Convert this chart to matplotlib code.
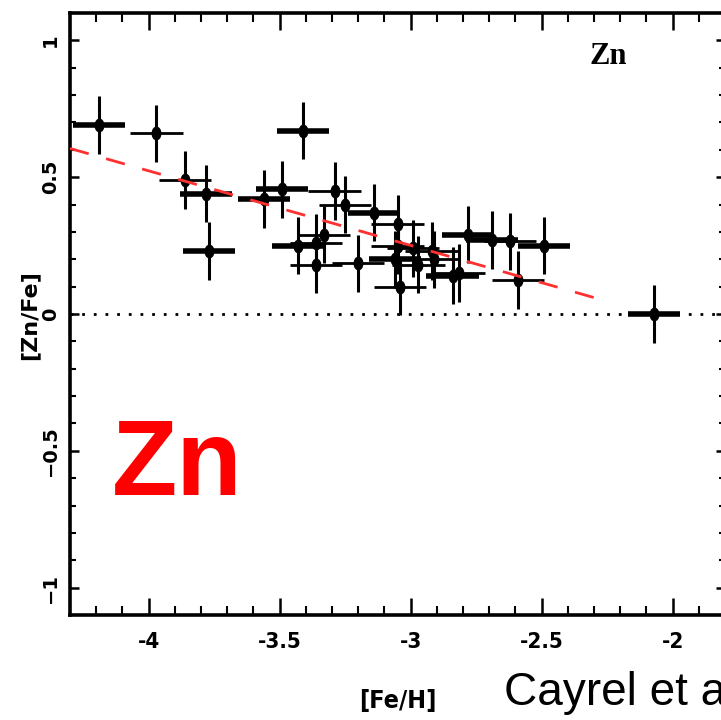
import matplotlib
matplotlib.use("Agg")
import matplotlib.pyplot as plt
from matplotlib.markers import MarkerStyle
from matplotlib.transforms import Affine2D
from matplotlib.ticker import FixedLocator, MultipleLocator, FixedFormatter

# ---------------- data ----------------
fe_h = [-4.19, -3.97, -3.86, -3.78, -3.77, -3.56, -3.49, -3.41, -3.43, -3.36,
        -3.36, -3.33, -3.29, -3.25, -3.20, -3.14, -3.05, -3.05, -3.06, -3.04,
        -2.99, -2.97, -2.92, -2.91, -2.84, -2.815, -2.78, -2.69, -2.62, -2.59,
        -2.49, -2.07]
zn_fe = [0.69, 0.66, 0.49, 0.44, 0.23, 0.42, 0.455, 0.67, 0.25, 0.26,
         0.18, 0.29, 0.45, 0.40, 0.185, 0.37, 0.33, 0.25, 0.20, 0.10,
         0.24, 0.18, 0.23, 0.20, 0.14, 0.15, 0.29, 0.27, 0.265, 0.125,
         0.25, 0.0]
fe_err = 0.10
zn_err = 0.105

fit_fe = [-4.30, -2.30]
fit_zn = [0.605, 0.06]

xtick_vals = [-4, -3.5, -3, -2.5, -2]
xtick_labels = ['-4', '-3.5', '-3', '-2.5', '-2']
ytick_vals = [-1, -0.5, 0, 0.5, 1]
ytick_labels = ['\u22121', '\u22120.5', '0', '0.5', '1']

# ---------------- style ----------------
bold_bars = {0, 3, 4, 5, 6, 7, 8, 15, 18, 24, 26, 27, 30, 31}

W, H = 721, 720
fig = plt.figure(figsize=(W / 100, H / 100), dpi=100)
L, R, T, B = 70, 725, 13, 615
ax = fig.add_axes([L / W, 1 - B / H, (R - L) / W, (B - T) / H])
ax.set_xlim(-4.3, -1.8)
ax.set_ylim(-1.1, 1.1)

# zero line
ax.axhline(0, color='black', lw=2.0, linestyle=(0, (1, 3.2)), zorder=1)

# fit line
ax.plot(fit_fe, fit_zn, color='#ff3030', lw=2.0, linestyle=(0, (7, 6.5)),
        zorder=4, dash_capstyle='butt')

thick_idx = [i for i in range(len(fe_h)) if i in bold_bars]
thin_idx = [i for i in range(len(fe_h)) if i not in bold_bars]
for idx, lw in ((thick_idx, 4.0), (thin_idx, 2.0)):
    ax.errorbar([fe_h[i] for i in idx], [zn_fe[i] for i in idx],
                xerr=fe_err, fmt='none', ecolor='black', elinewidth=lw,
                capsize=0, zorder=2)
ax.errorbar(fe_h, zn_fe, yerr=zn_err, fmt='none', ecolor='black',
            elinewidth=2.2, capsize=0, zorder=2)
mk = MarkerStyle('o', transform=Affine2D().scale(0.68, 1.0))
ax.plot(fe_h, zn_fe, linestyle='none', marker=mk, ms=9, color='black',
        zorder=3)

# ticks
ax.xaxis.set_major_locator(FixedLocator(xtick_vals))
ax.xaxis.set_major_formatter(FixedFormatter(xtick_labels))
ax.xaxis.set_minor_locator(MultipleLocator(0.1))
ax.yaxis.set_major_locator(FixedLocator(ytick_vals))
ax.yaxis.set_major_formatter(FixedFormatter(ytick_labels))
ax.yaxis.set_minor_locator(MultipleLocator(0.1))

ax.tick_params(axis='both', which='both', direction='in', top=True,
               right=True, color='black')
ax.tick_params(axis='x', which='major', length=12, width=1.8, pad=12)
ax.tick_params(axis='x', which='minor', length=6.5, width=1.5)
ax.tick_params(axis='y', which='major', length=6.5, width=1.8, pad=7)
ax.tick_params(axis='y', which='minor', length=4.3, width=1.5)
for lab in ax.get_xticklabels():
    lab.set_family('DejaVu Sans')
    lab.set_fontstretch('condensed')
    lab.set_fontweight('bold')
    lab.set_fontsize(16)
for lab in ax.get_yticklabels():
    lab.set_family('DejaVu Sans')
    lab.set_fontweight('bold')
    lab.set_fontsize(14)
    lab.set_rotation(90)
    lab.set_va('center')
for sp in ax.spines.values():
    sp.set_linewidth(2.6)

# panel label
ax.text(608 / W, 1 - 56 / H, 'Zn', transform=fig.transFigure, ha='center',
        va='center', fontsize=22, fontweight='bold', fontstretch='condensed',
        family=['Liberation Serif', 'DejaVu Serif'])

# axis labels
fig.text(29 / W, 1 - 315 / H, '[Zn/Fe]', rotation=90, ha='center',
         va='center', fontsize=16, fontweight='bold', family='DejaVu Sans')
fig.text(398 / W, 1 - 701 / H, '[Fe/H]', ha='center', va='center',
         fontsize=18, fontweight='bold', fontstretch='condensed',
         family='DejaVu Sans')

# overlay annotations
fig.text(112 / W, 1 - 495 / H, 'Zn', color='#ff0000', fontsize=77,
         fontweight='bold', family=['Liberation Sans', 'DejaVu Sans'],
         ha='left', va='baseline')
fig.text(504 / W, 1 - 705 / H, 'Cayrel et al. 2004', color='black',
         fontsize=33, family=['Liberation Sans', 'DejaVu Sans'],
         ha='left', va='baseline')

fig.savefig('out.png', dpi=100)
